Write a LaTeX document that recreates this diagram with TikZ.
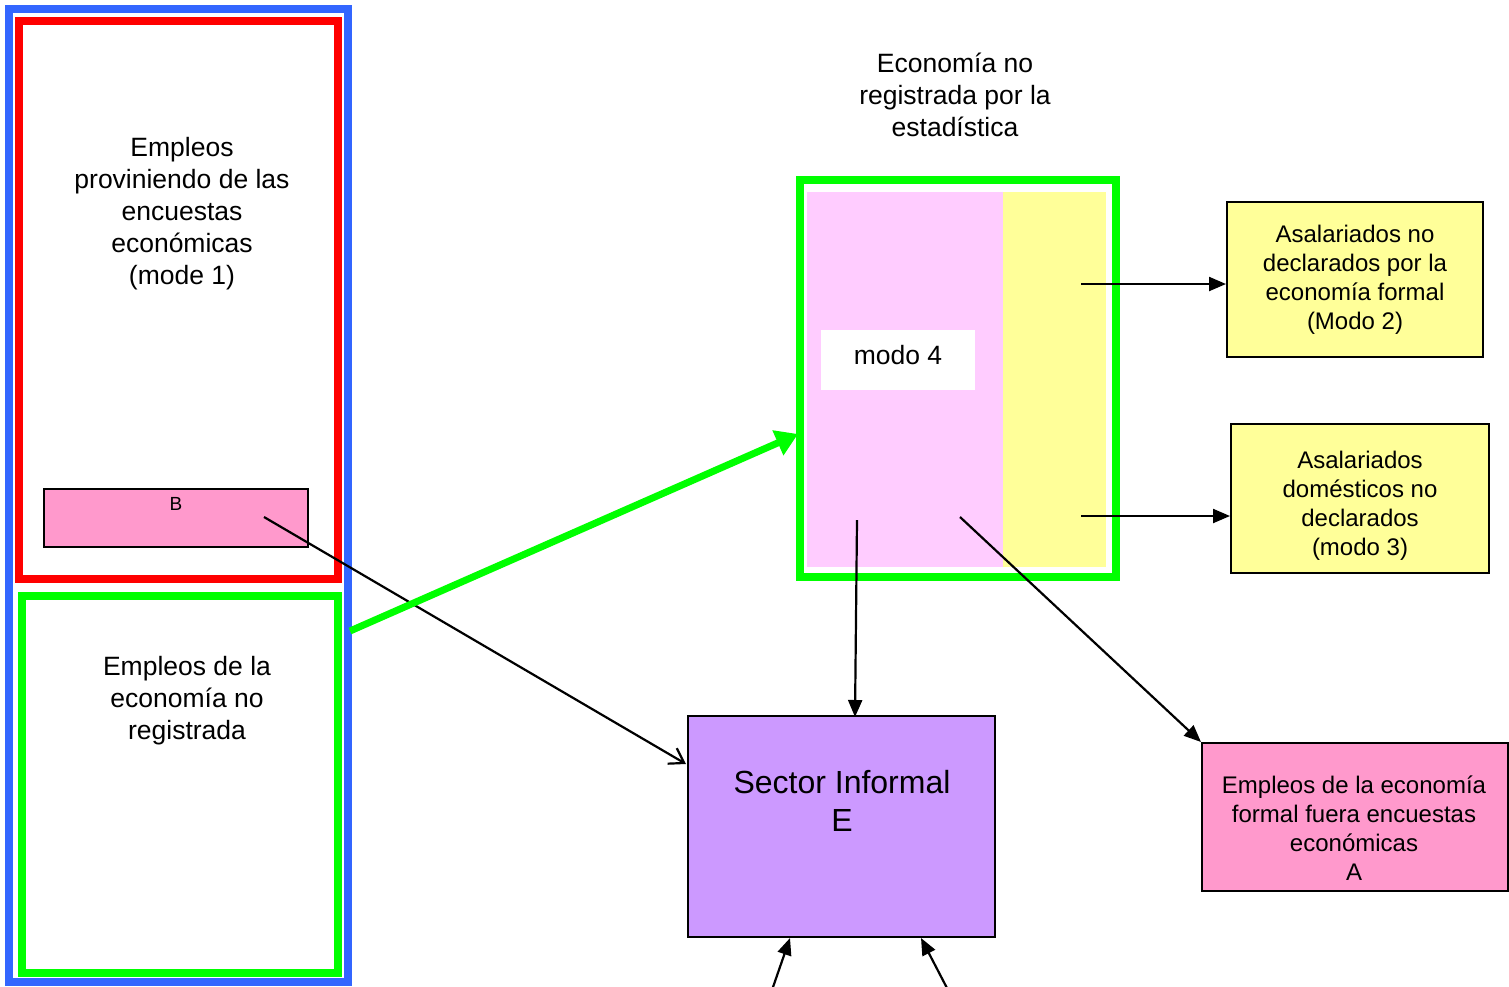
\documentclass[tikz,border=0pt]{standalone}
\usepackage{fontspec}
\setmainfont{Liberation Sans}
\usetikzlibrary{arrows.meta}
\definecolor{cblue}{HTML}{3366FF}
\definecolor{cred}{HTML}{FF0000}
\definecolor{cgreen}{HTML}{00FF00}
\definecolor{cpink}{HTML}{FF99CC}
\definecolor{clpink}{HTML}{FFCCFF}
\definecolor{cyellow}{HTML}{FFFF99}
\definecolor{cviolet}{HTML}{CC99FF}
\tikzset{
  frame/.style={draw, line width=8pt, rectangle, inner sep=0pt},
  fbox/.style={draw=black, line width=2pt, rectangle, inner sep=0pt},
  fillarea/.style={rectangle, inner sep=0pt, draw=none},
  bigtxt/.style={align=center, inner sep=0pt, font=\fontsize{26.5}{32}\selectfont},
  midtxt/.style={align=center, inner sep=0pt, font=\fontsize{24}{29}\selectfont},
  conn/.style={line width=2.2pt, -{Triangle[length=17pt,width=14pt]}},
}
\begin{document}
\begin{tikzpicture}[x=1pt,y=-1pt]
\useasboundingbox (0,0) rectangle (1509,986);
% left frames
\node[frame, draw=cblue, minimum width=338.5pt, minimum height=972.5pt] (blue) at (178.25,495.25) {};
\node[frame, draw=cred, minimum width=318.5pt, minimum height=558.5pt] (red) at (178.25,299.75) {};
\node[frame, draw=cgreen, minimum width=316pt, minimum height=377pt] (gleft) at (179.5,784.5) {};
\node[fbox, fill=cpink, minimum width=264pt, minimum height=58pt] (B) at (176,518) {};
\node[inner sep=0pt, font=\fontsize{19}{22}\selectfont] (Btxt) at (176,504) {B};
\node[bigtxt] (t1) at (182,214) {Empleos\\proviniendo de las\\encuestas\\económicas\\(mode 1)};
\node[bigtxt] (t2) at (187,701) {Empleos de la\\economía no\\registrada};
% right green frame
\node[bigtxt] (title) at (955,95) {Economía no\\registrada por la\\estadística};
\node[fillarea, fill=clpink, minimum width=196pt, minimum height=375pt] (pinkarea) at (905,379.5) {};
\node[fillarea, fill=cyellow, minimum width=103pt, minimum height=375pt] (yelarea) at (1054.5,379.5) {};
\node[frame, draw=cgreen, minimum width=316pt, minimum height=397pt] (gright) at (958,378.5) {};
\node[fillarea, fill=white, minimum width=154pt, minimum height=60pt] (m4) at (898,360) {};
\node[inner sep=0pt, font=\fontsize{26.5}{32}\selectfont] (m4txt) at (898,355) {modo 4};
% right boxes
\node[fbox, fill=cyellow, minimum width=256pt, minimum height=155pt] (y1) at (1355,279.5) {};
\node[midtxt] (y1txt) at (1355,280) {Asalariados no\\declarados por la\\economía formal\\(Modo 2)};
\node[fbox, fill=cyellow, minimum width=258pt, minimum height=149pt] (y2) at (1360,498.5) {};
\node[midtxt] (y2txt) at (1360,506) {Asalariados\\domésticos no\\declarados\\(modo 3)};
\node[fbox, fill=cpink, minimum width=306pt, minimum height=148pt] (A) at (1355,817) {};
\node[midtxt] (Atxt) at (1354,828) {Empleos de la economía\\formal fuera encuestas\\económicas\\A};
\node[fbox, fill=cviolet, minimum width=307pt, minimum height=221pt] (si) at (841.5,826.5) {};
\node[align=center, inner sep=0pt, font=\fontsize{32}{38}\selectfont] (sitxt) at (842,801) {Sector Informal\\E};
% connector end points
\coordinate (s1) at (1081,284);
\coordinate (s2) at (1081,516);
\coordinate (s3) at (857,520);
\coordinate (s4) at (960,517);
\coordinate (sB) at (264,517);
\coordinate (eB) at (686,764);
\coordinate (e3) at (855,717);
\coordinate (sg) at (350,631);
\coordinate (eg) at (798,434);
\coordinate (b1) at (772,990);
\coordinate (b1e) at (790,938);
\coordinate (b2) at (948,990);
\coordinate (b2e) at (921,938);
% connectors
\draw[conn] (s1) -- (s1 -| y1.west);
\draw[conn] (s2) -- (s2 -| y2.west);
\draw[conn] (s3) -- (e3);
\draw[conn] (s4) -- (A.north west);
\draw[line width=2.2pt, -{Straight Barb[length=14pt,width=18pt,line width=2.2pt]}] (sB) -- (eB);
\draw[line width=7pt, cgreen, -{Triangle[length=22pt,width=26pt]}] (sg) -- (eg);
\draw[conn] (b1) -- (b1e);
\draw[conn] (b2) -- (b2e);
\end{tikzpicture}
\end{document}
